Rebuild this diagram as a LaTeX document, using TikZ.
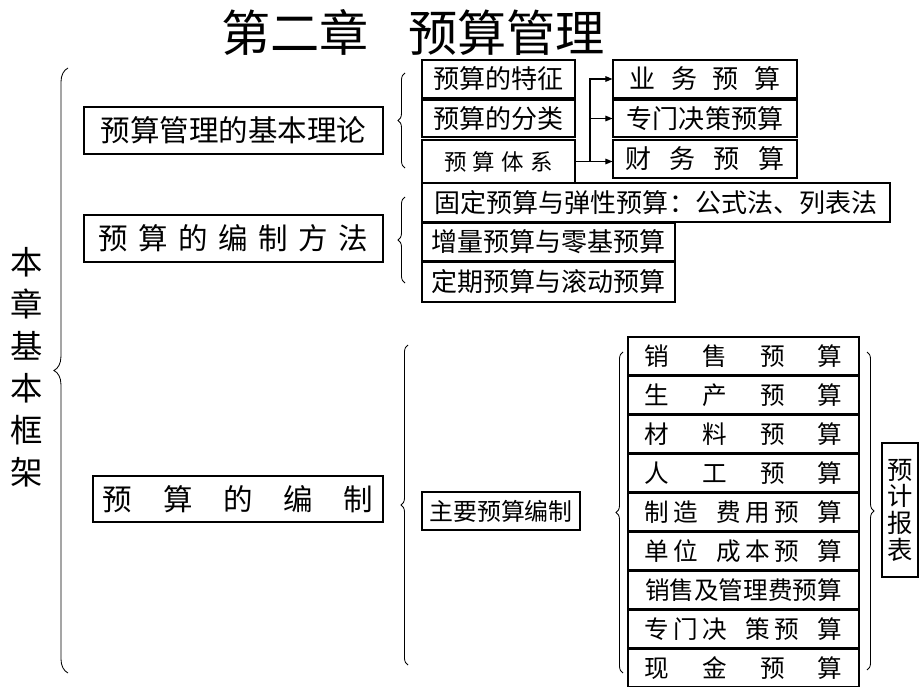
\documentclass[tikz,border=0pt]{standalone}
\usepackage{fontspec}
\newfontfamily\cjk{Noto Sans CJK SC}
\usetikzlibrary{arrows.meta, decorations.pathreplacing}

\newcommand{\fs}[1]{\fontsize{#1}{#1}\selectfont}
\newcommand{\rowtxt}[1]{\makebox[4.95cm]{#1}}

\begin{document}
\begin{tikzpicture}[x=0.025cm, y=-0.025cm, font=\cjk,
    box/.style 2 args={draw, line width=0.8pt, inner sep=0pt, minimum width=#1*0.025cm, minimum height=#2*0.025cm},
    big/.style={font=\cjk\fs{21}},
    sub/.style={font=\cjk\fs{18.5}},
    row/.style={box={231}{37.5}, font=\cjk\fs{17.5}},
    brc/.style={decorate, decoration={brace, amplitude=#1}, line width=0.6pt},
    arr/.style={-{Triangle[length=5pt, width=4pt]}, line width=0.8pt}]
    \useasboundingbox (0,0) rectangle (920,690);
    % 标题
    \node[font=\cjk\fs{35}] (title) at (413,32) {第二章\hspace{0.8em}预算管理};
    % 左侧竖排文字
    \foreach \c [count=\i] in {本,章,基,本,框,架} {
        \node[font=\cjk\fs{23}] (v\i) at (27,220+\i*42) {\c};
    }
    \draw[brc=10pt] (68,673) -- (68,68);
    % 第一层
    \node[box={299}{47}, big] (jbll) at (233.5,130.5) {预算管理的基本理论};
    \node[box={299}{47}, big] (bzff) at (233.5,238.5) {\makebox[6.75cm]{预\hfill 算\hfill 的\hfill 编\hfill 制\hfill 方\hfill 法}};
    \node[box={290}{46}, big] (bz) at (238,499) {\makebox[6.75cm]{预\hfill 算\hfill 的\hfill 编\hfill 制}};
    \draw[brc=5pt] (405,168) -- (405,73);
    \draw[brc=5pt] (405,283) -- (405,197);
    \draw[brc=5pt] (408,665) -- (408,345);
    % 基本理论
    \node[box={153}{38}, sub] (tz) at (498.5,79) {预算的特征};
    \node[box={153}{37}, sub] (fl) at (498.5,118.5) {预算的分类};
    \node[box={153}{43}, font=\cjk\fs{16}] (tx) at (498.5,161.5) {\makebox[2.7cm]{预\hfill 算\hfill 体\hfill 系}};
    \node[box={184}{38}, sub] (yw) at (705,79) {\makebox[3.75cm]{业\hfill 务\hfill 预\hfill 算}};
    \node[box={184}{37}, sub] (zm) at (705,118.5) {专门决策预算};
    \node[box={184}{38}, sub] (cw) at (705,159) {\makebox[3.95cm]{财\hfill 务\hfill 预\hfill 算}\hspace{0.55cm}};
    \coordinate (jn) at (590,161.5);
    \draw[arr] (tx.east) -- (tx.east -| cw.west);
    \draw[arr] (jn) |- (yw.west);
    \draw[arr] (jn) |- (zm.west);
    % 编制方法
    \node[box={468}{39}, sub] (gd) at (656,202.5) {固定预算与弹性预算：公式法、列表法};
    \node[box={253}{38}, sub] (zl) at (548.5,242) {增量预算与零基预算};
    \node[box={253}{40}, sub] (dq) at (548.5,282) {定期预算与滚动预算};
    % 主要预算
    \node[box={158}{38}, font=\cjk\fs{17}] (zy) at (501,511) {主要预算编制};
    \draw[brc=5pt] (623,673) -- (623,352);
    \foreach \t [count=\i] in {
        {销\hfill 售\hfill 预\hfill 算},
        {生\hfill 产\hfill 预\hfill 算},
        {材\hfill 料\hfill 预\hfill 算},
        {人\hfill 工\hfill 预\hfill 算},
        {制\hspace{3pt}造\hfill 费\hspace{3pt}用\hspace{3pt}预\hfill 算},
        {单\hspace{3pt}位\hfill 成\hspace{3pt}本\hspace{3pt}预\hfill 算},
        {销售及管理费预算},
        {专\hspace{3pt}门\hspace{3pt}决\hfill 策\hspace{3pt}预\hfill 算},
        {现\hfill 金\hfill 预\hfill 算}} {
        \node[row] (r\i) at (743.5,{355.75+(\i-1)*39}) {\rowtxt{\t}};
    }
    \draw[brc=5pt] (867,352) -- (867,670);
    \node[box={36}{134}, align=center, font=\cjk\fontsize{18}{19}\selectfont] (yj) at (900,510) {预\\计\\报\\表};
\end{tikzpicture}
\end{document}
